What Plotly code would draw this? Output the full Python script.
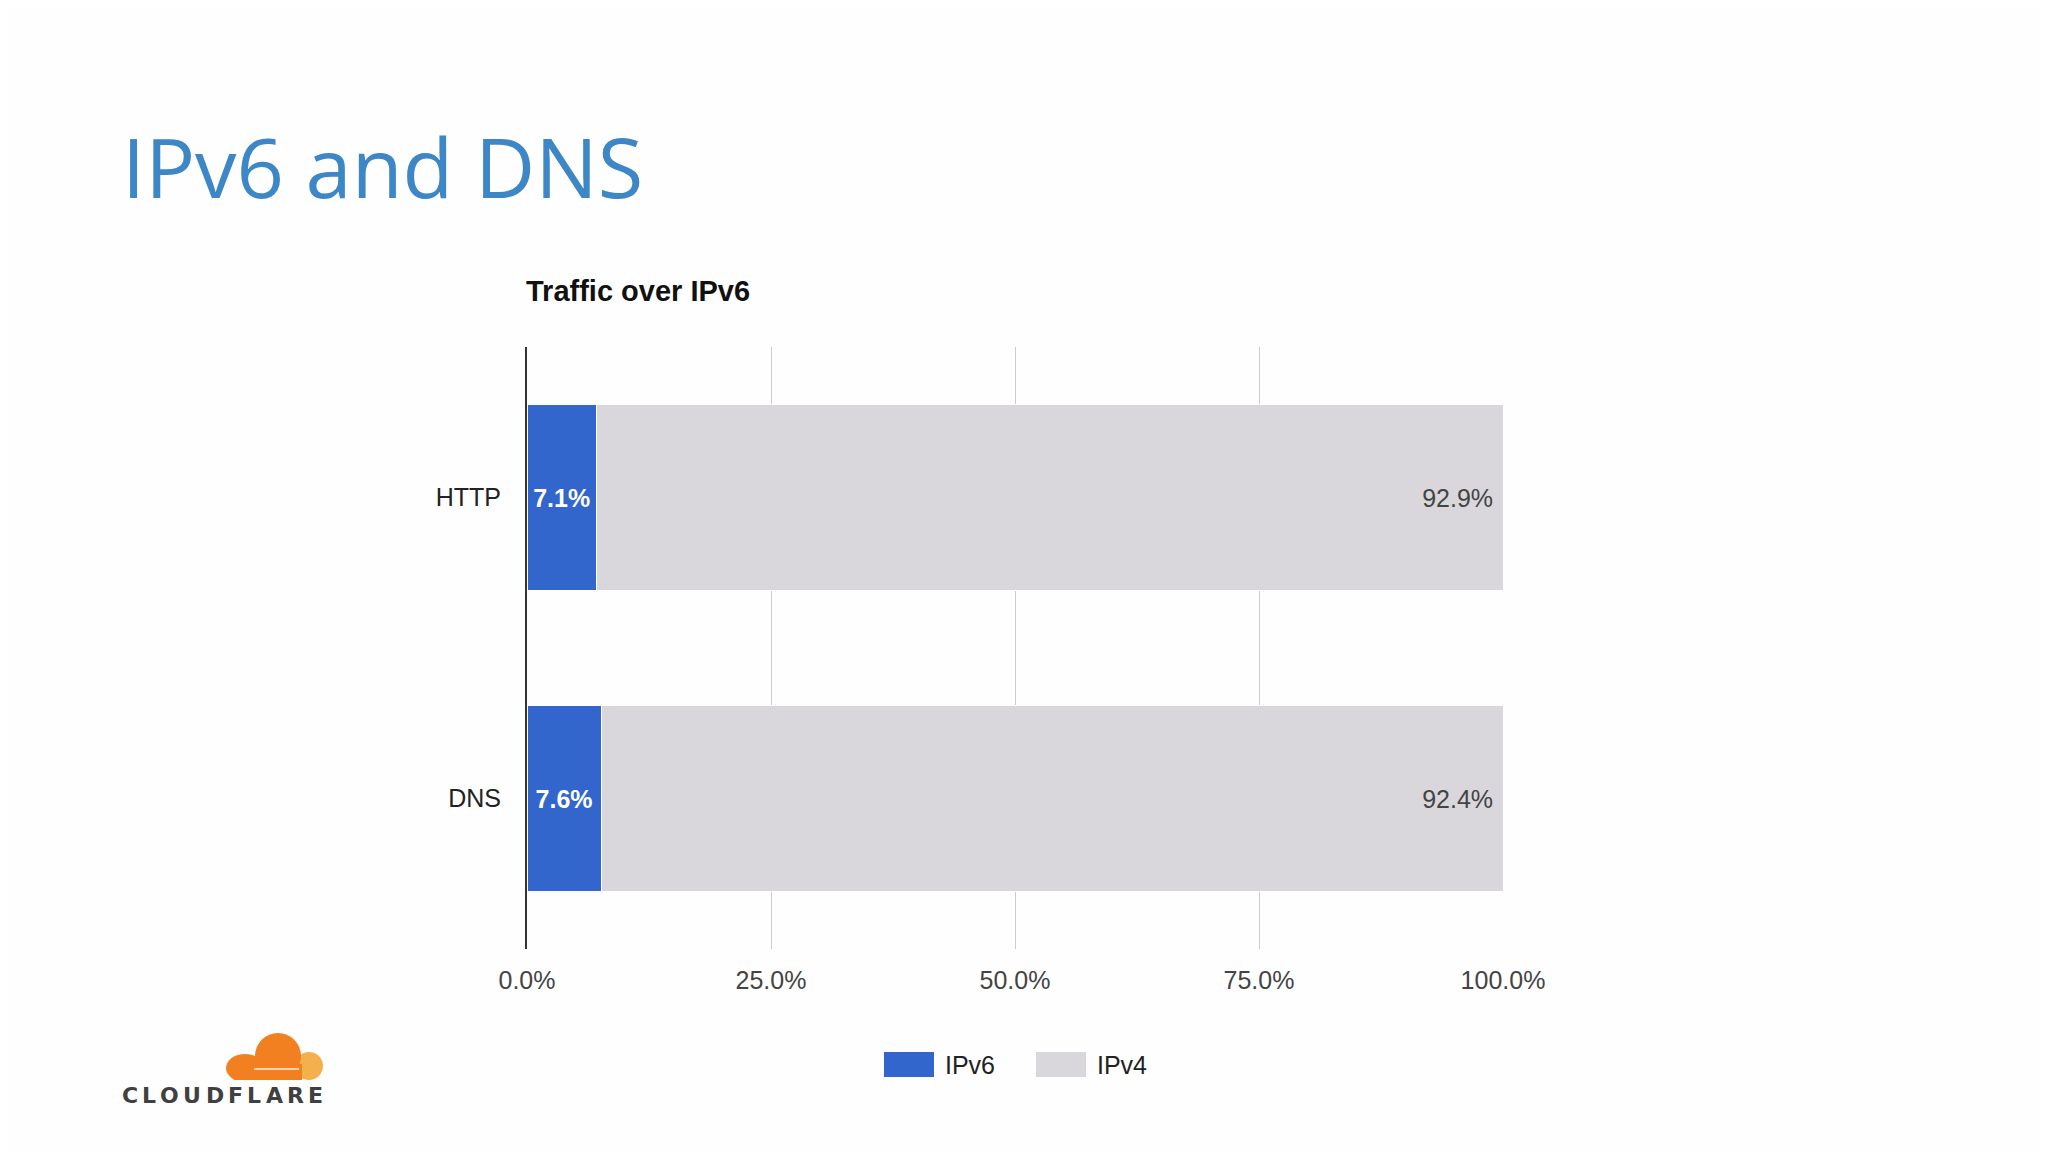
import plotly.graph_objects as go

# ---------------- data ----------------
categories = ["HTTP", "DNS"]
ipv6_share = [7.1, 7.6]
ipv4_share = [92.9, 92.4]
series_names = ["IPv6", "IPv4"]
series_colors = ["#3366cc", "#d9d7db"]
x_ticks = [0, 25, 50, 75, 100]
x_tick_labels = ["0.0%", "25.0%", "50.0%", "75.0%", "100.0%"]
slide_title = "IPv6 and DNS"
chart_title = "Traffic over IPv6"
logo_text = "CLOUDFLARE"

# ---------------- geometry (page pixels; page body has an 8px margin) ----------------
OFF = 8
FW, FH = 2048, 1152
L, R, T, B = 527 - OFF, 1503 - OFF, 347 - OFF, 949 - OFF
W, H = R - L, B - T


def px(x):
    return (x - OFF - L) / W


def py(y):
    return (B - (y - OFF)) / H


fig = go.Figure()
fig.add_trace(go.Bar(
    y=categories, x=ipv6_share, name=series_names[0], orientation="h",
    marker=dict(color=series_colors[0], line=dict(color="#ffffff", width=1)),
    text=[f"{v:.1f}%" for v in ipv6_share], textposition="inside",
    insidetextanchor="middle", constraintext="none", textangle=0,
    insidetextfont=dict(family="Liberation Sans", size=25, color="#ffffff", weight="bold"),
    hoverinfo="skip",
))
fig.add_trace(go.Bar(
    y=categories, x=ipv4_share, name=series_names[1], orientation="h",
    marker=dict(color=series_colors[1], line=dict(color="#ffffff", width=1)),
    text=[f"{v:.1f}%\u00a0" for v in ipv4_share], textposition="inside",
    insidetextanchor="end", constraintext="none", textangle=0,
    insidetextfont=dict(family="Liberation Sans", size=25, color="#444444"),
    hoverinfo="skip",
))

annotations = [
    dict(text=slide_title, x=px(120), y=py(166), xref="paper", yref="paper",
         xanchor="left", yanchor="middle", showarrow=False,
         font=dict(family="Open Sans", size=83, color="#3d87c7")),
    dict(text=chart_title, x=px(524), y=py(291), xref="paper", yref="paper",
         xanchor="left", yanchor="middle", showarrow=False,
         font=dict(family="Liberation Sans", size=29, color="#111111", weight="bold")),
]

shapes = []
# custom legend
leg_x = [884, 1036]
for i, name in enumerate(series_names):
    x0 = leg_x[i]
    shapes.append(dict(type="rect", xref="paper", yref="paper",
                       x0=px(x0), x1=px(x0 + 50), y0=py(1077), y1=py(1052),
                       fillcolor=series_colors[i], line=dict(width=0)))
    annotations.append(dict(text=name, x=px(x0 + 59), y=py(1065), xref="paper", yref="paper",
                            xanchor="left", yanchor="middle", showarrow=False,
                            font=dict(family="Liberation Sans", size=25, color="#222222")))


# Cloudflare logo (decoration)
def ellipse(cx, cy, rx, ry, color):
    return dict(type="circle", xref="paper", yref="paper",
                x0=px(cx - rx), x1=px(cx + rx), y0=py(cy + ry), y1=py(cy - ry),
                fillcolor=color, line=dict(width=0), layer="above")


shapes.append(ellipse(309, 1066, 14, 14, "#f5b04e"))
shapes.append(ellipse(278, 1056, 23, 23, "#f38020"))
shapes.append(ellipse(245, 1068, 19, 14, "#f38020"))
shapes.append(dict(type="rect", xref="paper", yref="paper", x0=px(234), x1=px(302),
                   y0=py(1080), y1=py(1064), fillcolor="#f38020", line=dict(width=0), layer="above"))
shapes.append(dict(type="rect", xref="paper", yref="paper", x0=px(220), x1=px(335),
                   y0=py(1087), y1=py(1080), fillcolor="#fefefe", line=dict(width=0), layer="above"))
shapes.append(dict(type="line", xref="paper", yref="paper", x0=px(254), x1=px(299),
                   y0=py(1069), y1=py(1069), line=dict(color="#fbd6ad", width=2), layer="above"))

letter_w = {"C": 0.734, "L": 0.637, "O": 0.850, "U": 0.812, "D": 0.830,
            "F": 0.683, "A": 0.774, "R": 0.770, "E": 0.683}
fs_logo = 22
total = sum(letter_w[c] * fs_logo for c in logo_text)
gap = (201 - total) / (len(logo_text) - 1)
cur = 122
for c in logo_text:
    w = letter_w[c] * fs_logo
    annotations.append(dict(text=c, x=px(cur + w / 2), y=py(1095), xref="paper", yref="paper",
                            xanchor="center", yanchor="middle", showarrow=False,
                            font=dict(family="DejaVu Sans", size=fs_logo, color="#404041", weight="bold")))
    cur += w + gap

fig.update_layout(
    width=FW, height=FH,
    margin=dict(l=L, r=FW - R, t=T, b=FH - B, pad=0),
    paper_bgcolor="#fefefe", plot_bgcolor="#fefefe",
    barmode="stack", bargap=0.385, showlegend=False,
    annotations=annotations, shapes=shapes,
    xaxis=dict(range=[0, 100], tickvals=x_ticks, ticktext=x_tick_labels,
               showgrid=True, gridcolor="#cccccc", gridwidth=1,
               zeroline=False, showline=False, ticks="",
               ticklabelstandoff=14,
               tickfont=dict(family="Liberation Sans", size=25, color="#444444")),
    yaxis=dict(categoryorder="array", categoryarray=categories, range=[1.5, -0.5],
               showgrid=False, zeroline=False, showline=True, linecolor="#333333",
               linewidth=2, layer="above traces", ticks="", ticklabelstandoff=19,
               tickfont=dict(family="Liberation Sans", size=25, color="#222222")),
)

fig.write_html("out.html")
